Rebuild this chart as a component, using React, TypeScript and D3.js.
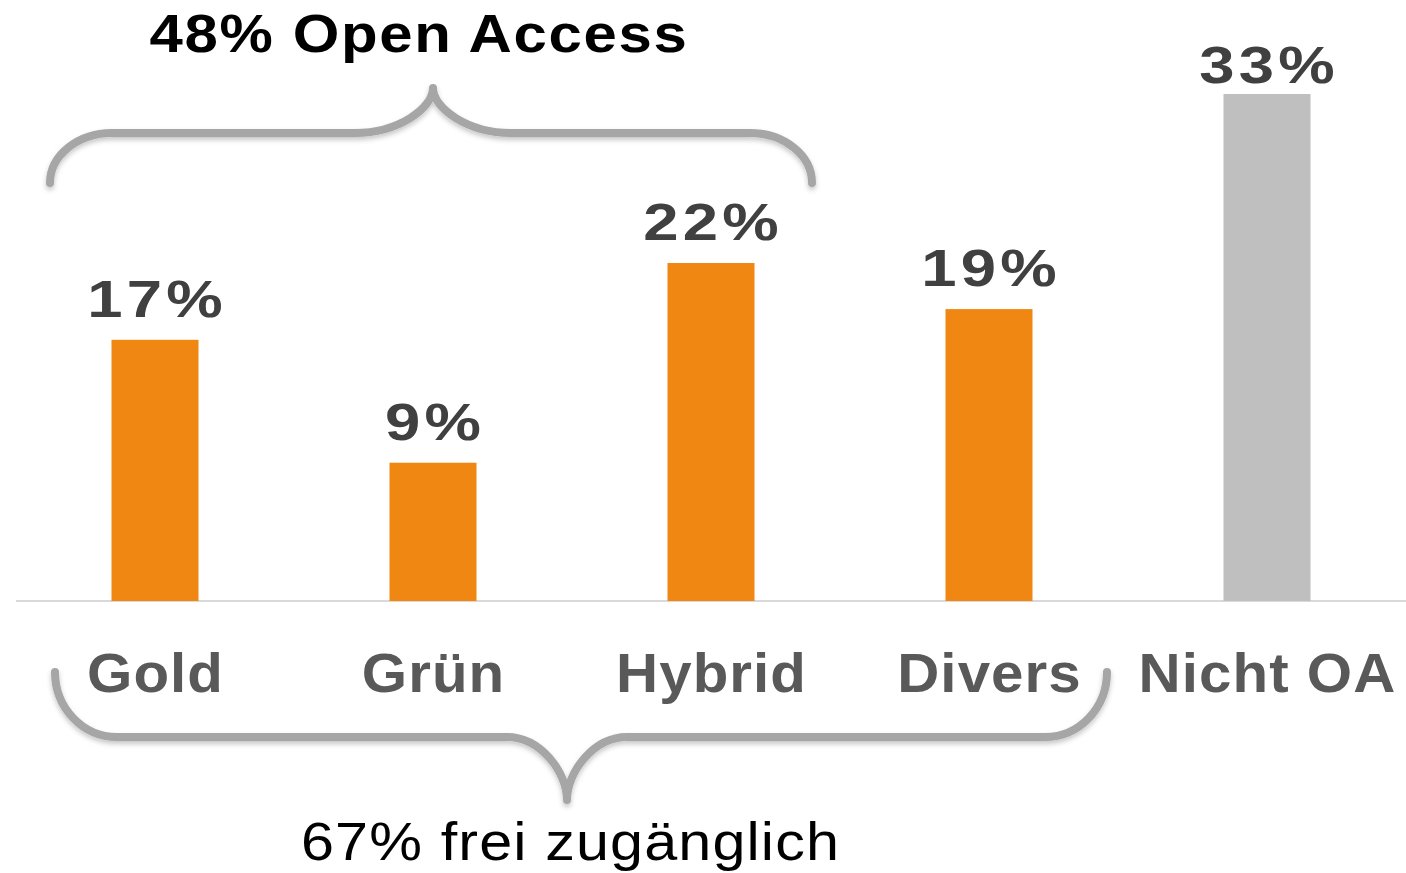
import React from "react";
import * as d3 from "d3";

const categories = ["Gold", "Grün", "Hybrid", "Divers", "Nicht OA"];
const values = [17, 9, 22, 19, 33];
const valueLabels = ["17%", "9%", "22%", "19%", "33%"];
const openAccessGroup = ["Gold", "Grün", "Hybrid"];
const freeGroup = ["Gold", "Grün", "Hybrid", "Divers"];
const topBraceLabel = "48% Open Access";
const bottomBraceLabel = "67% frei zugänglich";

const W = 1406;
const H = 873;
const BASE = 601;

function bracePath(x0: number, x1: number, xm: number, yTip: number, yLine: number, yPoint: number, rx: number, rx2: number) {
  const k = 0.552;
  const p = d3.path();
  p.moveTo(x0, yTip);
  p.bezierCurveTo(x0, yTip + k * (yLine - yTip), x0 + rx * (1 - k), yLine, x0 + rx, yLine);
  p.lineTo(xm - rx2, yLine);
  p.bezierCurveTo(xm - rx2 * (1 - k), yLine, xm, yLine + k * (yPoint - yLine), xm, yPoint);
  p.bezierCurveTo(xm, yLine + k * (yPoint - yLine), xm + rx2 * (1 - k), yLine, xm + rx2, yLine);
  p.lineTo(x1 - rx, yLine);
  p.bezierCurveTo(x1 - rx * (1 - k), yLine, x1, yTip + k * (yLine - yTip), x1, yTip);
  return p.toString();
}

export default function App() {
  const x = d3.scaleBand<string>().domain(categories).range([16, 1406]).paddingInner(0.687).paddingOuter(0.3435);
  const y = d3.scaleLinear().domain([0, 33]).range([BASE, 94]);
  const bw = x.bandwidth();
  const cx = (c: string) => (x(c) as number) + bw / 2;

  const topL = cx(openAccessGroup[0]) - 105;
  const topR = cx(openAccessGroup[openAccessGroup.length - 1]) + 101;
  const botL = cx(freeGroup[0]) - 100;
  const botR = cx(freeGroup[freeGroup.length - 1]) + 118;

  const vs = 1.22;
  const vls = 3.5;

  return (
    <svg width={W} height={H} style={{ position: "absolute", left: 0, top: 0 }}>
      <defs>
        <filter id="sh" x="-10%" y="-30%" width="120%" height="180%">
          <feDropShadow dx="0" dy="3" stdDeviation="2.5" floodColor="#000" floodOpacity="0.22" />
        </filter>
      </defs>
      <rect width={W} height={H} fill="#fff" />
      <line x1={16} x2={1406} y1={BASE} y2={BASE} stroke="#d9d9d9" strokeWidth={2} />
      {categories.map((c, i) => (
        <rect key={c} x={x(c)} y={y(values[i])} width={bw} height={BASE - y(values[i])}
          fill={c === "Nicht OA" ? "#BFBFBF" : "#F08713"} />
      ))}
      {categories.map((c, i) => (
        <text key={"v" + c} transform={`translate(${cx(c) + (vls * vs) / 2},${Math.max(y(values[i]) - 23, 83)}) scale(${vs},1)`}
          textAnchor="middle" letterSpacing={vls} fontFamily="'Liberation Sans', Arial, sans-serif" fontWeight="bold" fontSize={52} fill="#404040">
          {valueLabels[i]}
        </text>
      ))}
      {categories.map((c) => (
        <text key={"c" + c} transform={`translate(${cx(c) + 0.5},692) scale(1.06,1)`}
          textAnchor="middle" letterSpacing={1} fontFamily="'Liberation Sans', Arial, sans-serif" fontWeight="bold" fontSize={55} fill="#595959">
          {c}
        </text>
      ))}
      <path d={bracePath(topL, topR, cx(openAccessGroup[1]), 183, 133, 88, 62, 78)}
        fill="none" stroke="#A6A6A6" strokeWidth={8} strokeLinecap="round" strokeLinejoin="round" filter="url(#sh)" />
      <path d={bracePath(botL, botR, (botL + botR) / 2 - 14, 672, 737, 800, 62, 60)}
        fill="none" stroke="#A6A6A6" strokeWidth={8} strokeLinecap="round" strokeLinejoin="round" filter="url(#sh)" />
      <text transform={`translate(419,52) scale(1.11,1)`} textAnchor="middle" letterSpacing={1.5}
        fontFamily="'Liberation Sans', Arial, sans-serif" fontWeight="bold" fontSize={54} fill="#000">
        {topBraceLabel}
      </text>
      <text transform={`translate(570.5,860) scale(1.12,1)`} textAnchor="middle" letterSpacing={1}
        fontFamily="'Liberation Sans', Arial, sans-serif" fontSize={53} fill="#000">
        {bottomBraceLabel}
      </text>
    </svg>
  );
}
